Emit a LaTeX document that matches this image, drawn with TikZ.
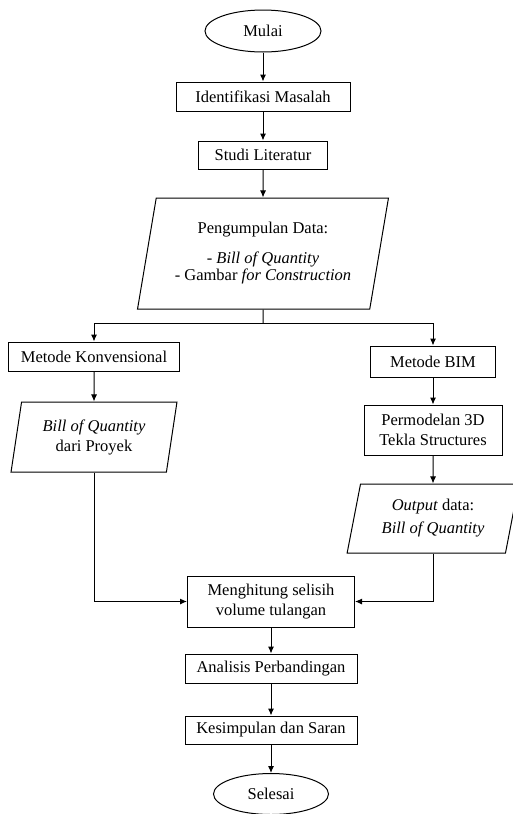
\documentclass[tikz,border=0pt]{standalone}
\usepackage{fontspec}
\setmainfont{Liberation Serif}
\usetikzlibrary{arrows.meta,positioning,shapes.geometric}

\begin{document}
\begin{tikzpicture}[x=1pt,y=-1pt,>={Latex[length=7pt,width=6pt]},line width=1pt,
  font=\fontsize{16.5}{20}\selectfont,
  box/.style={draw,rectangle,align=center,inner sep=2pt},
  term/.style={draw,ellipse,inner sep=0pt},
  io/.style={draw,trapezium,trapezium left angle=76,trapezium right angle=104,trapezium stretches=true,align=center,inner sep=0pt}]
\useasboundingbox (0,0) rectangle (513,814);
\node[term,minimum width=116pt,minimum height=42pt] (mulai) at (263,31) {Mulai};
\node[box,minimum width=174pt,minimum height=29pt] (ident) at (263,96.5) {Identifikasi Masalah};
\node[box,minimum width=129pt,minimum height=28pt] (studi) at (263,155) {Studi Literatur};
\node[io,minimum width=251pt,minimum height=111pt] (data) at (263,253.5) {Pengumpulan Data:\\[10pt] - \textit{Bill of Quantity}\\[-3pt] - Gambar \textit{for Construction}};
\coordinate (split) at (263,323);
\node[box,minimum width=171pt,minimum height=29pt] (konv) at (94,356.5) {Metode Konvensional};
\node[box,minimum width=125pt,minimum height=31pt] (bim) at (433,361.5) {Metode BIM};
\node[io,trapezium left angle=78,trapezium right angle=102,minimum width=166pt,minimum height=70pt] (boqa) at (94,437) {\textit{Bill of Quantity}\\dari Proyek};
\node[box,minimum width=138pt,minimum height=50pt] (model) at (433,430) {Permodelan 3D\\Tekla Structures};
\node[io,minimum width=172pt,minimum height=69pt] (output) at (433,518.5) {\textit{Output} data:\\[3pt]\textit{Bill of Quantity}};
\node[box,minimum width=167pt,minimum height=51pt] (hitung) at (271,601.5) {Menghitung selisih\\volume tulangan};
\node[box,minimum width=172pt,minimum height=29pt] (analisis) at (271,668.5) {Analisis Perbandingan};
\node[box,minimum width=172pt,minimum height=28pt] (simpul) at (271,730) {Kesimpulan dan Saran};
\node[term,minimum width=115pt,minimum height=41pt] (selesai) at (271,794) {Selesai};
\draw[->] (mulai) -- (ident);
\draw[->] (ident) -- (studi);
\draw[->] (studi) -- (data);
\draw (data) -- (split);
\draw[->] (split) -| (konv);
\draw[->] (split) -| (bim);
\draw[->] (konv) -- (boqa);
\draw[->] (bim) -- (model);
\draw[->] (model) -- (output);
\draw[->] (boqa) |- (hitung);
\draw[->] (output) |- (hitung);
\draw[->] (hitung) -- (analisis);
\draw[->] (analisis) -- (simpul);
\draw[->] (simpul) -- (selesai);
\end{tikzpicture}
\end{document}
